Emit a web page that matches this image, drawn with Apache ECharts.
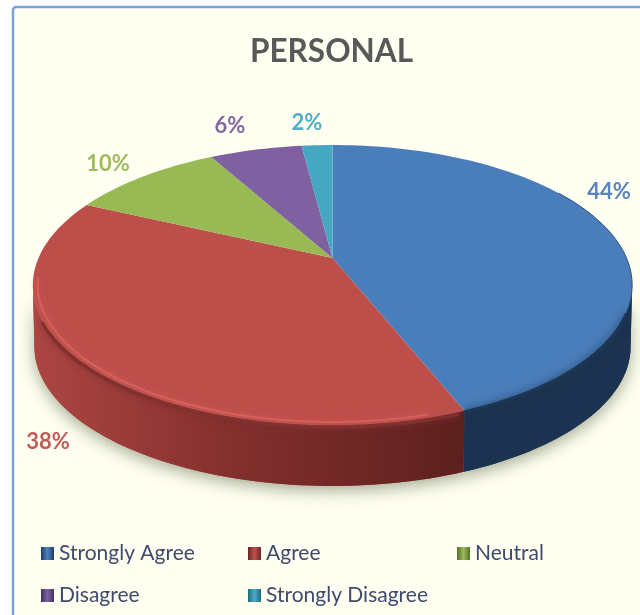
<!DOCTYPE html>
<html>
<head>
<meta charset="utf-8">
<style>html,body{margin:0;padding:0;background:#fff}#c{width:640px;height:615px}</style>
<script src="https://cdn.jsdelivr.net/npm/echarts@6/dist/echarts.min.js"></script>
</head>
<body>
<div id="c"></div>
<script>
const titleText = 'PERSONAL';
const categories = ['Strongly Agree', 'Agree', 'Neutral', 'Disagree', 'Strongly Disagree'];
const values = [44, 38, 10, 6, 2];

const topColors = ['#4a7ebb', '#bd4f4b', '#98b954', '#7f60a0', '#46a7c2'];
const labelColors = ['#5a83bb', '#c45a57', '#9dbb5c', '#8267a3', '#4fb0c8'];
const legendLight = ['#4f81bd', '#c0504d', '#9bbb59', '#8064a2', '#4bacc6'];
const legendDark = ['#1f3f66', '#6e2422', '#56702a', '#42305e', '#1c6c80'];
const wallStops = [
  ['#1f3a5c', '#1b3350'], ['#ad4643', '#5c201e'], ['#6a8339', '#6a8339'],
  ['#4e3a66', '#4e3a66'], ['#2b7488', '#2b7488']
];

// Layout of the tilted disc (perspective projection of a unit circle)
const disc = { cx: 332.5, cy: 258, b: 294, a: 134.8, k: -0.193, depth: 62 };
const labelAt = [[609, 192], [48, 442], [108, 164], [230, 126], [307, 123]];
const legendAt = [[41, 543], [248, 543], [457, 543], [41, 585], [248, 585]];
const FRONT_FROM = 101, FRONT_TO = 259;

const total = values.reduce((s, v) => s + v, 0);
const starts = [];
values.reduce((s, v, i) => { starts[i] = s; return s + v; }, 0);

function project(deg, r, dz) {
  const t = deg * Math.PI / 180;
  const u = r * Math.sin(t), v = -r * Math.cos(t);
  const d = 1 + disc.k * v;
  return [disc.cx + disc.b * u / d, disc.cy + disc.a * v / d + (dz || 0)];
}
function arc(from, to, r, dz) {
  const pts = [], n = Math.max(2, Math.ceil((to - from) / 1.5));
  for (let i = 0; i <= n; i++) pts.push(project(from + (to - from) * i / n, r, dz));
  return pts;
}
function renderSlice(i) {
  return function (params, api) {
    const val = api.value(0);
    const a0 = starts[i] / total * 360, a1 = a0 + val / total * 360;
    const children = [];
    const f0 = Math.max(a0, FRONT_FROM), f1 = Math.min(a1, FRONT_TO);
    if (f1 > f0) {
      const wall = arc(f0, f1, 1, 0).concat(arc(f0, f1, 0.995, disc.depth).reverse());
      children.push({ type: 'polygon', z2: 1, silent: true, shape: { points: wall },
        style: { fill: wallStops[i][0], shadowBlur: 16, shadowColor: 'rgba(95,105,70,0.55)', shadowOffsetY: 5 } });
      children.push({ type: 'polygon', z2: 2, silent: true, shape: { points: wall }, style: { fill: i === 1
        ? new echarts.graphic.LinearGradient(0, 0, 1, 0, [
            { offset: 0, color: wallStops[1][0] }, { offset: 0.45, color: '#84302e' }, { offset: 1, color: wallStops[1][1] }
          ])
        : wallStops[i][1] } });
    }
    const topPts = [[disc.cx, disc.cy]].concat(arc(a0, a1, 1, 0));
    if (i === 1) {
      // soft dark transition between the top face and the wall
      children.push({ type: 'polyline', z2: 2, silent: true, shape: { points: arc(a0 + 1, 245, 1, 2) },
        style: { fill: 'none', stroke: '#7c2f2d', lineWidth: 4, shadowBlur: 7, shadowColor: '#7c2f2d' } });
    }
    children.push({ type: 'polygon', z2: 3, silent: true, shape: { points: topPts }, style: { fill: topColors[i] } });
    if (i === 0) {
      children.push({ type: 'polyline', z2: 4, silent: true, shape: { points: arc(112, a1, 1, 1) },
        style: { fill: 'none', stroke: '#1d3755', lineWidth: 3, shadowBlur: 9, shadowColor: '#1d3755' } });
      children.push({ type: 'polyline', z2: 4, silent: true, shape: { points: arc(a0 + 58, 112, 1, 0) },
        style: { fill: 'none', stroke: '#2c5078', lineWidth: 1 } });
    }
    if (i === 1) {
      children.push({ type: 'polyline', z2: 4, silent: true, shape: { points: arc(a0 + 6, 262, 0.985, 0) },
        style: { fill: 'none', stroke: 'rgba(222,102,98,0.75)', lineWidth: 2, shadowBlur: 7, shadowColor: '#d9605c' } });
    }
    children.push({ type: 'text', z2: 6, silent: true, style: {
      text: val + '%', x: labelAt[i][0], y: labelAt[i][1], align: 'center', verticalAlign: 'middle',
      fill: labelColors[i], font: 'bold 22px Lato'
    } });
    return { type: 'group', children };
  };
}

const chart = echarts.init(document.getElementById('c'), null, { renderer: 'canvas' });
chart.setOption({
  animation: false,
  backgroundColor: '#ffffff',
  title: { text: titleText, left: 245, top: 31,
    textStyle: { fontFamily: 'Lato', fontWeight: 'bold', fontSize: 31.5, color: '#595959' } },
  graphic: [{ type: 'rect', z: -10, silent: true,
    shape: { x: 13, y: 7, width: 640, height: 620, r: 3 },
    style: { fill: '#fffff2', stroke: '#7c9fd6', lineWidth: 2.5 } }],
  legend: categories.map((name, i) => ({
    data: [name], left: legendAt[i][0], top: legendAt[i][1], icon: 'rect',
    itemWidth: 13, itemHeight: 13, selectedMode: false, padding: 0,
    itemStyle: { color: new echarts.graphic.LinearGradient(0, 0, 1, 0, [
      { offset: 0, color: legendDark[i] }, { offset: 0.5, color: legendLight[i] }, { offset: 1, color: legendDark[i] }
    ]) },
    textStyle: { fontFamily: 'Lato', fontSize: 21, color: '#3f4a6c' }
  })),
  series: categories.map((name, i) => ({
    type: 'custom', name, coordinateSystem: 'none', data: [[values[i]]],
    renderItem: renderSlice(i), silent: true
  }))
});
</script>
</body>
</html>
